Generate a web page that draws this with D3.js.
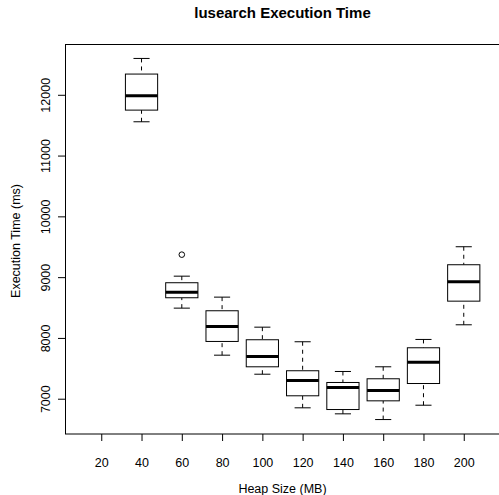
<!DOCTYPE html>
<html>
<head>
<meta charset="utf-8">
<script src="https://cdn.jsdelivr.net/npm/d3@7"></script>
<style>
  body { margin: 0; background: #fff; }
  text { font-family: 'Liberation Sans', Arial, sans-serif; fill: #000; }
</style>
</head>
<body>
<script>
// heap sizes on the x axis (20 MB has no data)
const heapSizes = [20, 40, 60, 80, 100, 120, 140, 160, 180, 200]

// boxplot stats, in ms
const lowWhisker = [null, 11556, 8490, 7716, 7403, 6850, 6751, 6657, 6893, 8216]
const q1 = [null, 11748, 8661, 7942, 7525, 7048, 6822, 6965, 7250, 8605]
const medians = [null, 11984, 8753, 8188, 7695, 7300, 7184, 7135, 7600, 8924]
const q3 = [null, 12341, 8908, 8447, 7970, 7460, 7267, 7328, 7838, 9204]
const highWhisker = [null, 12598, 9016, 8671, 8177, 7937, 7448, 7525, 7975, 9500]
const outliers = [[], [], [9370], [], [], [], [], [], [], []]

const yTicks = [7000, 8000, 9000, 10000, 11000, 12000]

const width = 499
const height = 495
const margin = { top: 44, right: -1, bottom: 61, left: 65 }
const plotW = width - margin.left - margin.right
const plotH = height - margin.top - margin.bottom

const boxes = heapSizes.map((h, i) => ({
  pos: i + 1,
  heap: h,
  lo: lowWhisker[i],
  q1: q1[i],
  med: medians[i],
  q3: q3[i],
  hi: highWhisker[i],
  out: outliers[i]
}))

// R style: 4% padding around data range
const allVals = boxes.flatMap(d => d.lo == null ? d.out : [d.lo, d.hi, ...d.out])
const [vmin, vmax] = d3.extent(allVals)
const pad = (vmax - vmin) * 0.04

const n = heapSizes.length
const x = d3.scaleLinear()
  .domain([0.5 - n * 0.04, n + 0.5 + n * 0.04])
  .range([margin.left, margin.left + plotW])

const y = d3.scaleLinear()
  .domain([vmin - pad, vmax + pad])
  .range([margin.top + plotH, margin.top])

const step = x(2) - x(1)
const boxW = step * 0.8
const capW = step * 0.4

const svg = d3.select('body')
  .append('svg')
  .attr('width', width)
  .attr('height', height)

// title
svg.append('text')
  .attr('x', margin.left + plotW / 2)
  .attr('y', 17.5)
  .attr('text-anchor', 'middle')
  .style('font-size', '15px')
  .style('font-weight', 'bold')
  .text('lusearch Execution Time')

// frame
svg.append('rect')
  .attr('x', margin.left + 0.5)
  .attr('y', margin.top + 0.5)
  .attr('width', plotW)
  .attr('height', plotH - 0.5)
  .attr('fill', 'none')
  .attr('stroke', '#000')

// x axis
const xAxis = svg.append('g')
  .attr('transform', `translate(0,${margin.top + plotH})`)
  .call(d3.axisBottom(x)
    .tickValues(boxes.map(d => d.pos))
    .tickFormat((d, i) => heapSizes[i])
    .tickSize(7)
    .tickSizeOuter(0)
    .tickPadding(17))
xAxis.select('.domain').remove()
xAxis.selectAll('text')
  .style('font-size', '12.5px')

// y axis
const yAxis = svg.append('g')
  .attr('transform', `translate(${margin.left},0)`)
  .call(d3.axisLeft(y)
    .tickValues(yTicks)
    .tickFormat(d3.format('d'))
    .tickSize(7)
    .tickSizeOuter(0))
yAxis.select('.domain').remove()
yAxis.selectAll('text')
  .attr('x', null)
  .attr('dy', null)
  .attr('transform', 'translate(-15.5,0) rotate(-90)')
  .attr('text-anchor', 'middle')
  .style('font-size', '12.5px')

// axis labels
svg.append('text')
  .attr('x', margin.left + plotW / 2)
  .attr('y', 493)
  .attr('text-anchor', 'middle')
  .style('font-size', '12.5px')
  .text('Heap Size (MB)')

svg.append('text')
  .attr('transform', 'translate(19.5,241) rotate(-90)')
  .attr('text-anchor', 'middle')
  .style('font-size', '12.5px')
  .text('Execution Time (ms)')

// boxes
const g = svg.append('g')
  .selectAll('g')
  .data(boxes.filter(d => d.med != null))
  .join('g')
  .attr('fill', 'none')
  .attr('stroke', '#000')

// whiskers (dashed), from cap to box
g.append('line')
  .attr('x1', d => x(d.pos))
  .attr('x2', d => x(d.pos))
  .attr('y1', d => y(d.hi))
  .attr('y2', d => y(d.q3))
  .attr('stroke-dasharray', '4,4')
g.append('line')
  .attr('x1', d => x(d.pos))
  .attr('x2', d => x(d.pos))
  .attr('y1', d => y(d.lo))
  .attr('y2', d => y(d.q1))
  .attr('stroke-dasharray', '4,4')

// caps
g.append('line')
  .attr('x1', d => x(d.pos) - capW / 2)
  .attr('x2', d => x(d.pos) + capW / 2)
  .attr('y1', d => y(d.hi))
  .attr('y2', d => y(d.hi))
g.append('line')
  .attr('x1', d => x(d.pos) - capW / 2)
  .attr('x2', d => x(d.pos) + capW / 2)
  .attr('y1', d => y(d.lo))
  .attr('y2', d => y(d.lo))

g.append('rect')
  .attr('x', d => x(d.pos) - boxW / 2)
  .attr('y', d => y(d.q3))
  .attr('width', boxW)
  .attr('height', d => y(d.q1) - y(d.q3))
  .attr('fill', '#fff')

g.append('line')
  .attr('x1', d => x(d.pos) - boxW / 2)
  .attr('x2', d => x(d.pos) + boxW / 2)
  .attr('y1', d => y(d.med))
  .attr('y2', d => y(d.med))
  .attr('stroke-width', 3)

// outliers
g.selectAll('circle')
  .data(d => d.out.map(v => ({ pos: d.pos, v })))
  .join('circle')
  .attr('cx', d => x(d.pos))
  .attr('cy', d => y(d.v))
  .attr('r', 2.8)
</script>
</body>
</html>
